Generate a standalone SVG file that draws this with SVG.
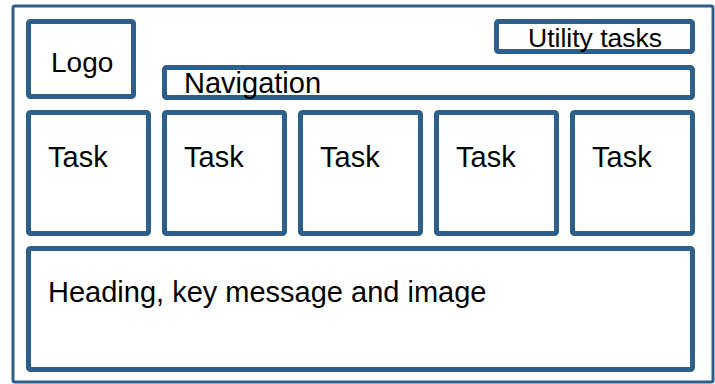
<svg xmlns="http://www.w3.org/2000/svg" width="715" height="384" viewBox="0 0 715 384">
<style>
.box{fill:#fff;stroke:#2C5F8A;stroke-width:5}
.frame{fill:#fff;stroke:#2C5F8A;stroke-width:3}
text{font-family:"Liberation Sans",Arial,sans-serif;font-size:29px;fill:#000}
</style>
<rect width="715" height="384" fill="#fff"/>
<g id="frame"><rect class="frame" x="13" y="6" width="700" height="376" rx="2"/></g>
<g id="logo"><rect class="box" x="28.5" y="21.5" width="105" height="75" rx="2"/><text x="51" y="72" style="font-size:28px">Logo</text></g>
<g id="utility"><rect class="box" x="496.5" y="21.5" width="196" height="30" rx="2"/><text x="528" y="47" style="font-size:26.5px">Utility tasks</text></g>
<g id="navigation"><rect class="box" x="164.5" y="67.5" width="528" height="30" rx="2"/><text x="184" y="93">Navigation</text></g>
<g id="task1"><rect class="box" x="28.5" y="112.5" width="120" height="121" rx="2"/><text x="48" y="167">Task</text></g>
<g id="task2"><rect class="box" x="164.5" y="112.5" width="120" height="121" rx="2"/><text x="184" y="167">Task</text></g>
<g id="task3"><rect class="box" x="300.5" y="112.5" width="120" height="121" rx="2"/><text x="320" y="167">Task</text></g>
<g id="task4"><rect class="box" x="436.5" y="112.5" width="120" height="121" rx="2"/><text x="456" y="167">Task</text></g>
<g id="task5"><rect class="box" x="572.5" y="112.5" width="120" height="121" rx="2"/><text x="592" y="167">Task</text></g>
<g id="heading"><rect class="box" x="28.5" y="248.5" width="664" height="121" rx="2"/><text x="48" y="302">Heading, key message and image</text></g>
<g id="connectors"/>
</svg>
